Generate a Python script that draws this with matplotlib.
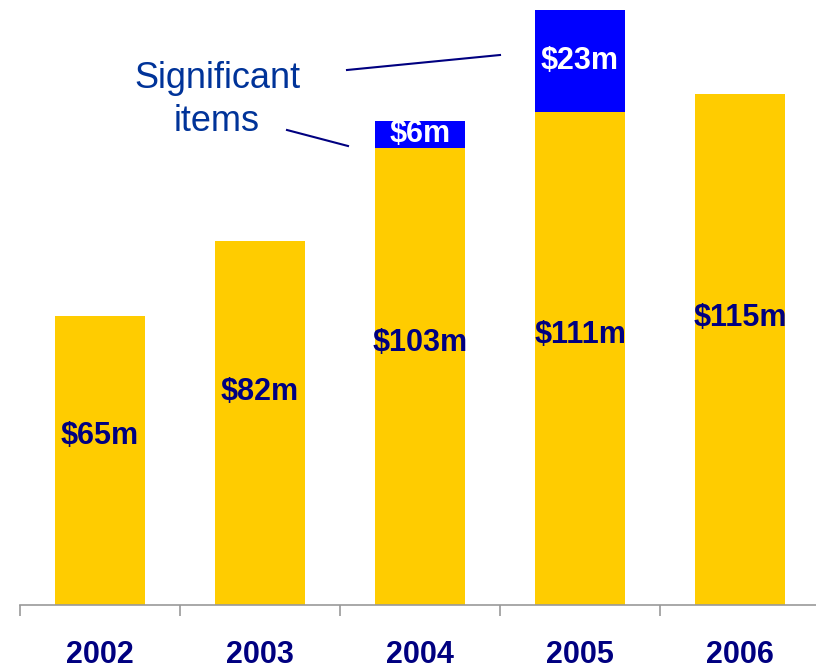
import matplotlib.pyplot as plt

years = ["2002", "2003", "2004", "2005", "2006"]
underlying = [65, 82, 103, 111, 115]
significant = [0, 0, 6, 23, 0]

# height of each value label as a share of its yellow bar
label_frac = [0.585, 0.585, 0.573, 0.548, 0.562]

yellow = "#FFCC00"
blue = "#0000FF"
navy = "#000080"

plt.rcParams["font.family"] = ["Liberation Sans", "DejaVu Sans"]

W, H = 816, 669
fig = plt.figure(figsize=(W / 100, H / 100), dpi=100)
# axes runs off the right edge so the last tick falls outside the figure
ax = fig.add_axes([20 / W, 64 / H, 800 / W, 595 / H])

x = list(range(len(years)))
ax.bar(x, underlying, width=0.5625, color=yellow)
ax.bar(x, significant, width=0.5625, bottom=underlying, color=blue)

for i, (u, s) in enumerate(zip(underlying, significant)):
    ax.text(i, u * label_frac[i], f"${u}m", ha="center", va="center",
            fontsize=22, fontweight="bold", color=navy)
    if s:
        ax.text(i, u + s / 2, f"${s}m", ha="center", va="center",
                fontsize=22, fontweight="bold", color="white")

ax.set_xlim(-0.5, 4.5)
ax.set_ylim(0, 134)

for side in ["top", "right", "left"]:
    ax.spines[side].set_visible(False)
ax.spines["bottom"].set_color("#999999")
ax.spines["bottom"].set_linewidth(1.2)
ax.set_yticks([])

ax.set_xticks([i - 0.5 for i in range(len(years) + 1)])
ax.set_xticklabels([])
ax.tick_params(axis="x", which="major", length=8, width=1.2, color="#999999", direction="out")
ax.set_xticks(x, minor=True)
ax.set_xticklabels(years, minor=True)
ax.tick_params(axis="x", which="minor", length=0, pad=25, labelsize=22, labelcolor=navy)
for lbl in ax.get_xticklabels(minor=True):
    lbl.set_fontweight("bold")

# callout for the significant items
fig.text(217 / W, 1 - 100 / H, "Significant\nitems", ha="center", va="center",
         fontsize=26, color="#003399", linespacing=1.3)
fig.add_artist(plt.Line2D([347 / W, 500 / W], [1 - 70 / H, 1 - 55 / H], color=navy, lw=1.5))
fig.add_artist(plt.Line2D([287 / W, 348 / W], [1 - 130 / H, 1 - 146 / H], color=navy, lw=1.5))

fig.savefig("out.png", dpi=100)
